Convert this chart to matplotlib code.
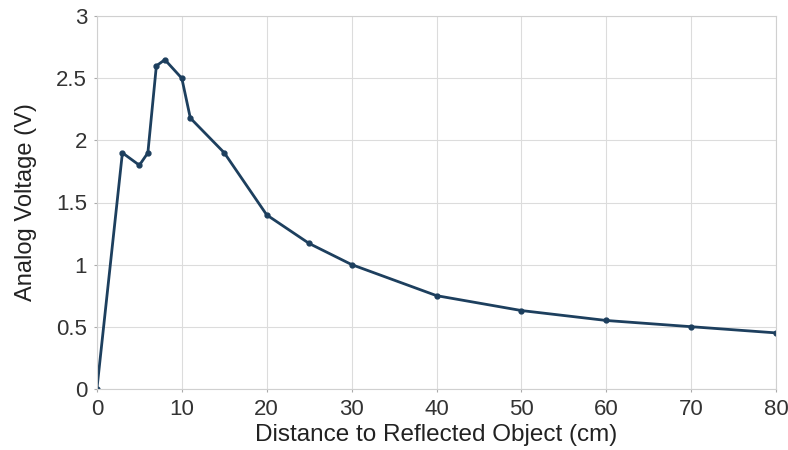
import matplotlib
matplotlib.use("Agg")
import matplotlib.pyplot as plt
from matplotlib.ticker import FuncFormatter

# distance (cm) vs sensor output (V)
distance = [0, 3, 5, 6, 7, 8, 10, 11, 15, 20, 25, 30, 40, 50, 60, 70, 80]
voltage = [0, 1.9, 1.8, 1.9, 2.6, 2.65, 2.5, 2.18, 1.9, 1.4, 1.17, 1.0, 0.75, 0.63, 0.55, 0.5, 0.45]

x_ticks = [0, 10, 20, 30, 40, 50, 60, 70, 80]
y_ticks = [0, 0.5, 1, 1.5, 2, 2.5, 3]

plt.rcParams['font.family'] = ['Liberation Sans', 'DejaVu Sans']

fig = plt.figure(figsize=(7.88, 4.5), dpi=100)
ax = fig.add_axes([0.123, 0.136, 0.862, 0.828])

ax.plot(distance, voltage, color='#1d3f5e', linewidth=2, marker='o', markersize=3.5)

ax.set_xlim(0, 80)
ax.set_ylim(0, 3)
ax.set_xticks(x_ticks)
ax.set_yticks(y_ticks)
ax.yaxis.set_major_formatter(FuncFormatter(lambda v, p: f"{v:g}"))
ax.grid(True, color='#dcdcdc', linewidth=0.8)
ax.set_axisbelow(True)
for s in ax.spines.values():
    s.set_color('#d0d0d0')
    s.set_linewidth(0.8)
ax.tick_params(length=2, color='#aaaaaa', labelsize=16, labelcolor='#333333', pad=5)

ax.set_xlabel('Distance to Reflected Object (cm)', fontsize=17.5, color='#222222', labelpad=3)
ax.set_ylabel('Analog Voltage (V)', fontsize=17, color='#222222', labelpad=14)

fig.savefig('out.png', dpi=100)
